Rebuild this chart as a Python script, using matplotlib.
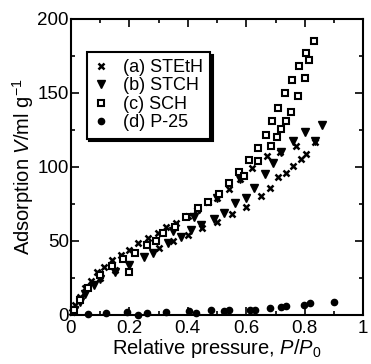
import matplotlib
matplotlib.use("Agg")
import matplotlib.pyplot as plt
from matplotlib.ticker import MultipleLocator

plt.rcParams['font.family'] = ['Liberation Sans', 'DejaVu Sans']
plt.rcParams['mathtext.fontset'] = 'custom'
plt.rcParams['mathtext.rm'] = 'Liberation Sans'
plt.rcParams['mathtext.it'] = 'Liberation Sans:italic'

# (a) STEtH - both branches
a_x = [0.005, 0.015, 0.03, 0.05, 0.07, 0.09, 0.113, 0.141, 0.17, 0.198, 0.231, 0.265, 0.298,
       0.327, 0.36, 0.40, 0.43, 0.47, 0.50, 0.54, 0.58, 0.62, 0.67, 0.715, 0.769,
       0.10, 0.15, 0.30, 0.35, 0.40, 0.45, 0.50, 0.55, 0.60, 0.65, 0.68, 0.71, 0.737,
       0.76, 0.788, 0.805, 0.835]
a_y = [2, 7, 12, 18, 23, 29, 32.6, 37, 40.5, 44, 48.4, 51.8, 55.2,
       59.7, 62, 67, 71, 76, 79, 85, 92, 99, 107.6, 110.3, 114.4,
       25, 30, 45, 50, 54, 59, 63, 68, 73, 80, 86, 93, 95.7,
       100.7, 105.4, 108.8, 116.5]

# (b) STCH
b_x = [0.01, 0.03, 0.05, 0.08, 0.10, 0.15, 0.20, 0.25, 0.28, 0.333, 0.378, 0.412, 0.444,
       0.49, 0.524, 0.563, 0.60, 0.627, 0.664, 0.693, 0.72, 0.76, 0.802, 0.836, 0.859,
       0.35, 0.42, 0.50, 0.58]
b_y = [3, 9, 14, 20, 24, 29, 34, 39, 42, 48.4, 52.9, 57.4, 60.8,
       65, 68.7, 75.5, 79, 86, 95, 102.5, 110, 117.6, 123.4, 117.6, 128,
       57, 66, 79, 92]

# (c) SCH
c_x = [0.01, 0.03, 0.06, 0.10, 0.14, 0.18, 0.22, 0.26, 0.29, 0.316, 0.356, 0.395, 0.434,
       0.468, 0.507, 0.541, 0.575, 0.608, 0.641, 0.667, 0.689, 0.71, 0.733, 0.757, 0.78,
       0.805, 0.831,
       0.198, 0.592, 0.639, 0.684, 0.704, 0.72, 0.737, 0.753, 0.777, 0.801, 0.816]
c_y = [3, 10, 18, 27, 33, 38, 42, 47, 50, 55, 59.7, 66.4, 72,
       76.6, 82, 89, 96.8, 104.7, 113, 121.6, 131, 140, 150, 159, 168,
       177, 185.3,
       29.3, 94, 104, 114.4, 120, 125.5, 131, 137, 148, 160, 172]

# (d) P-25
d_x = [0.057, 0.119, 0.192, 0.231, 0.259, 0.327, 0.405, 0.428, 0.478, 0.523, 0.54,
       0.613, 0.63, 0.68, 0.72, 0.736, 0.798, 0.818, 0.899]
d_y = [0.7, 1.1, 1.6, 0.0, 1.1, 1.6, 2.3, 1.1, 3.4, 2.3, 3.4,
       3.4, 3.4, 4.5, 5.6, 6.1, 6.8, 7.9, 9.0]

fig = plt.figure(figsize=(3.71, 3.64), dpi=100)
ax = fig.add_axes([0.191, 0.135, 0.788, 0.813])

ax.plot(a_x, a_y, 'x', color='black', ms=5, mew=1.8, label='(a) STEtH', clip_on=False)
ax.plot(b_x, b_y, 'v', color='black', ms=5.5, label='(b) STCH', clip_on=False)
ax.plot(c_x, c_y, 's', mfc='white', mec='black', ms=4.5, mew=1.5, label='(c) SCH', clip_on=False)
ax.plot(d_x, d_y, 'o', color='black', ms=4.5, label='(d) P-25', clip_on=False)

ax.set_xlim(0, 1)
ax.set_ylim(0, 200)
ax.xaxis.set_major_locator(MultipleLocator(0.2))
ax.xaxis.set_minor_locator(MultipleLocator(0.1))
ax.yaxis.set_major_locator(MultipleLocator(50))
ax.yaxis.set_minor_locator(MultipleLocator(25))
ax.set_xticks([0, 0.2, 0.4, 0.6, 0.8, 1.0])
ax.set_xticklabels(['0', '0.2', '0.4', '0.6', '0.8', '1'])
ax.tick_params(which='both', direction='in', top=True, right=True, width=1.2, labelsize=13.5)
ax.tick_params(axis='x', pad=4)
ax.tick_params(axis='y', pad=1.5)
ax.tick_params(which='major', length=6)
ax.tick_params(which='minor', length=3)
for s in ax.spines.values():
    s.set_linewidth(1.5)

ax.set_xlabel('Relative pressure, $P$/$P_0$', fontsize=14.5, labelpad=0)
ax.set_ylabel('Adsorption $V$/ml g$^{-1}$', fontsize=14.5, labelpad=1)

leg = ax.legend(loc='upper left', bbox_to_anchor=(0.054, 0.889), borderaxespad=0,
                fontsize=13, fancybox=False, edgecolor='black', framealpha=1,
                handlelength=0.8, handletextpad=0.8, labelspacing=0.08, borderpad=0.4,
                shadow={'color': 'black', 'alpha': 1})
leg.get_frame().set_linewidth(1.5)

fig.savefig('out.png', dpi=100)
